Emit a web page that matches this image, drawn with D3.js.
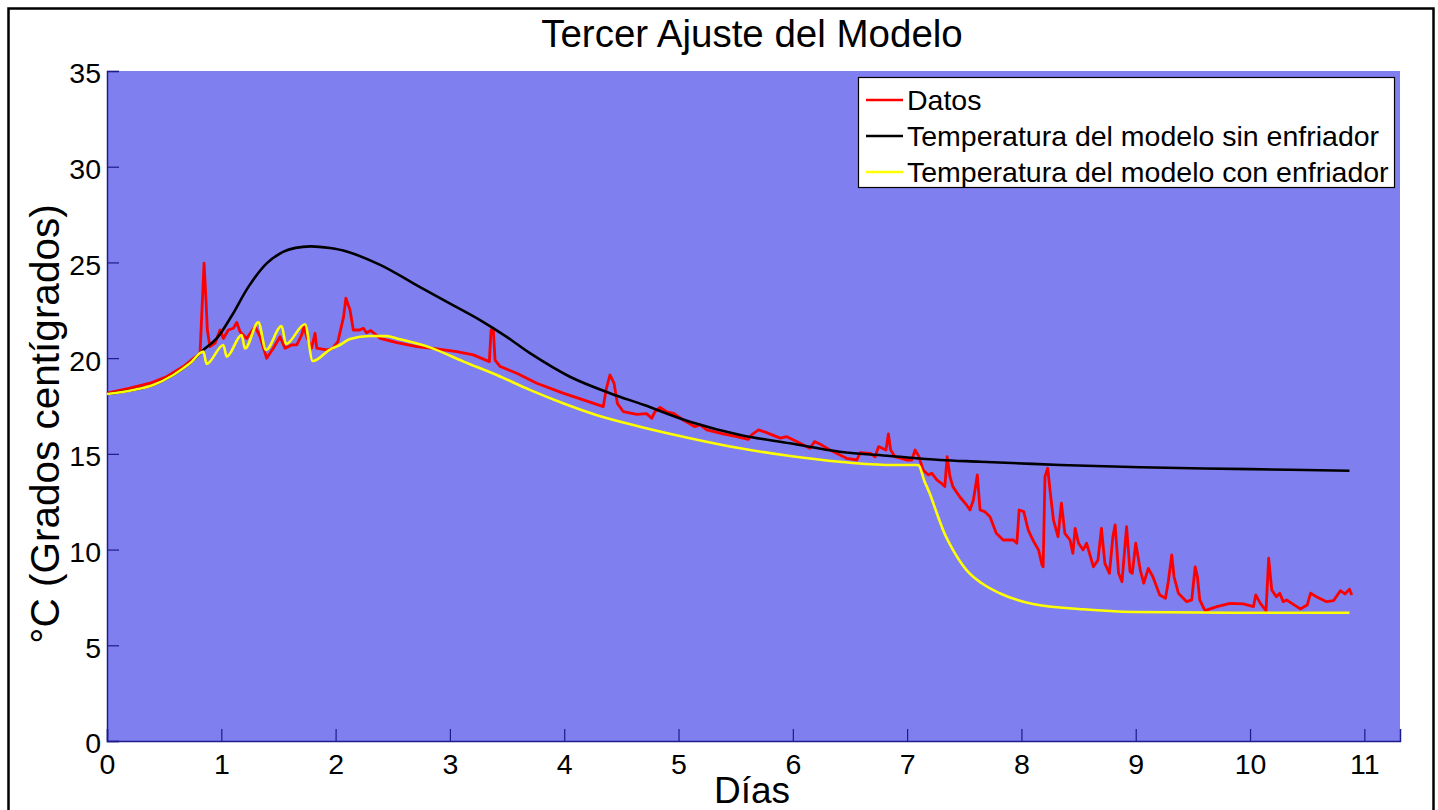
<!DOCTYPE html>
<html><head><meta charset="utf-8">
<script src="https://cdn.jsdelivr.net/npm/d3@7"></script>
<style>body{margin:0;background:#fff;} svg{display:block;} text{font-family:"Liberation Sans",Arial,sans-serif;}</style>
</head><body>
<svg id="c" width="1438" height="810"></svg>
<script>
const title = "Tercer Ajuste del Modelo";
const xLabel = "Días";
const yLabel = "°C (Grados centígrados)";
const xTicks = [0,1,2,3,4,5,6,7,8,9,10,11];
const yTicks = [0,5,10,15,20,25,30,35];
const legendLabels = ["Datos","Temperatura del modelo sin enfriador","Temperatura del modelo con enfriador"];

const datosX = [0,0.2,0.376,0.52,0.668,0.814,0.849,0.866,0.878,0.9,0.945,0.989,1.018,1.061,1.105,1.135,1.164,1.222,1.295,1.339,1.397,1.455,1.514,1.557,1.616,1.66,1.703,1.724,1.747,1.79,1.82,1.835,1.92,1.97,2.02,2.07,2.09,2.126,2.155,2.21,2.243,2.27,2.307,2.345,2.39,2.535,2.71,2.885,3.06,3.205,3.345,3.36,3.38,3.395,3.44,3.585,3.76,3.99,4.167,4.342,4.366,4.4,4.436,4.465,4.517,4.634,4.72,4.765,4.794,4.838,4.897,4.955,5.04,5.144,5.188,5.247,5.39,5.51,5.61,5.64,5.7,5.77,5.89,5.947,6.034,6.15,6.19,6.25,6.325,6.47,6.56,6.59,6.675,6.72,6.75,6.815,6.836,6.856,6.894,6.996,7.04,7.07,7.1,7.14,7.186,7.215,7.26,7.3,7.33,7.35,7.375,7.4,7.46,7.52,7.55,7.58,7.614,7.638,7.68,7.725,7.78,7.84,7.93,7.96,7.98,8.02,8.06,8.1,8.15,8.18,8.19,8.206,8.23,8.25,8.28,8.32,8.35,8.38,8.425,8.45,8.47,8.5,8.54,8.57,8.63,8.67,8.7,8.73,8.77,8.8,8.82,8.85,8.88,8.92,8.95,8.97,9.0,9.04,9.07,9.11,9.15,9.21,9.26,9.285,9.315,9.335,9.373,9.446,9.49,9.52,9.54,9.56,9.606,9.71,9.825,9.94,10.03,10.05,10.09,10.14,10.163,10.19,10.23,10.26,10.29,10.32,10.365,10.44,10.5,10.53,10.58,10.67,10.73,10.79,10.83,10.87,10.89];
const datosY = [18.17,18.43,18.69,19.03,19.56,20.26,24.96,23.04,21.47,20.6,20.78,21.47,21.03,21.47,21.56,21.86,21.38,21.03,21.65,21.12,19.99,20.52,21.12,20.52,20.69,20.69,21.21,21.65,21.12,20.52,21.3,20.52,20.43,20.5,20.86,22.17,23.13,22.52,21.47,21.47,21.56,21.33,21.44,21.26,21.03,20.81,20.6,20.48,20.34,20.17,19.82,21.47,21.47,19.9,19.56,19.21,18.69,18.17,17.82,17.47,18.34,19.12,18.69,17.64,17.2,17.06,17.1,16.86,17.2,17.43,17.2,17.12,16.77,16.42,16.51,16.25,16.04,15.9,15.76,15.99,16.25,16.11,15.82,15.9,15.64,15.29,15.64,15.47,15.2,14.77,14.68,15.06,15.03,14.85,15.38,15.2,16.04,15.2,14.85,14.68,14.68,15.2,14.9,14.16,13.9,13.99,13.64,13.46,13.29,14.85,13.81,13.29,12.76,12.33,12.07,12.59,13.9,12.07,11.98,11.72,10.85,10.5,10.5,10.33,12.07,11.98,11.02,10.5,9.98,9.2,9.1,13.81,14.25,13.11,11.55,10.67,12.42,10.85,10.5,9.8,11.11,10.33,9.98,10.33,9.1,9.46,11.11,9.28,8.76,10.67,11.29,8.76,8.32,11.2,8.85,8.76,10.33,8.93,8.24,9.02,8.58,7.63,7.46,8.32,9.72,8.58,7.72,7.28,7.37,9.1,8.58,7.37,6.81,7.02,7.19,7.16,7.02,7.63,7.19,6.81,9.55,7.89,7.54,7.72,7.28,7.37,7.19,6.9,7.1,7.72,7.54,7.28,7.33,7.85,7.68,7.93,7.63];

const sinX = [0,0.23,0.405,0.58,0.726,0.843,0.96,1.09,1.24,1.397,1.54,1.65,1.78,1.95,2.097,2.39,2.68,2.97,3.26,3.5,3.7,4.05,4.4,4.7,5.1,5.54,5.975,6.41,6.85,7.29,7.64,8.34,9.04,10.0,10.87];
const sinY = [18.13,18.34,18.6,19.12,19.73,20.43,21.03,22.2,23.75,24.95,25.55,25.76,25.84,25.75,25.57,24.87,23.91,22.95,22.0,21.1,20.26,19.03,18.17,17.55,16.68,15.99,15.55,15.11,14.89,14.68,14.59,14.42,14.3,14.2,14.12];

const conX = [0,0.23,0.405,0.58,0.726,0.843,0.872,1.018,1.047,1.178,1.207,1.324,1.391,1.528,1.566,1.732,1.8,1.95,2.04,2.126,2.3,2.45,2.535,2.83,3.12,3.41,3.7,3.99,4.28,4.663,5.1,5.54,5.975,6.41,6.85,7.08,7.1,7.15,7.2,7.26,7.32,7.4,7.52,7.65,7.81,8.1,8.54,8.98,9.85,10.87];
const conY = [18.13,18.34,18.6,19.12,19.73,20.34,19.7,20.69,20.08,21.2,20.5,21.87,20.43,21.68,20.74,21.77,19.85,20.45,20.7,21.0,21.16,21.15,21.03,20.55,19.82,19.12,18.34,17.64,17.03,16.42,15.82,15.29,14.89,14.59,14.42,14.42,14.4,13.6,12.9,11.9,10.95,10.0,8.93,8.25,7.72,7.16,6.88,6.74,6.7,6.7];

const svg = d3.select("#c");
const L=107, R=1400, T=71, B=741;
const x = d3.scaleLinear().domain([0, 11.312]).range([L, R]);
const y = d3.scaleLinear().domain([0, 35]).range([B, T]);
const axisCol = "#1c1c8a";

// frame
svg.append("rect").attr("x",8.5).attr("y",8.5).attr("width",1425).attr("height",900)
  .attr("fill","#fff").attr("stroke","#000").attr("stroke-width",2.5);
// plot bg
svg.append("rect").attr("x",L).attr("y",T).attr("width",R-L).attr("height",B-T).attr("fill","#7f7fef");

// axes
const xAxis = d3.axisBottom(x).tickValues(xTicks).tickSize(-12).tickPadding(13).tickFormat(d3.format("d"));
const yAxis = d3.axisLeft(y).tickValues(yTicks).tickSize(-12).tickPadding(6).tickFormat(d3.format("d"));
const gx = svg.append("g").attr("transform",`translate(0,${B})`).call(xAxis);
const gy = svg.append("g").attr("transform",`translate(${L},0)`).call(yAxis);
[gx,gy].forEach(g=>{
  g.select(".domain").attr("stroke",axisCol).attr("stroke-width",1.5);
  g.selectAll(".tick line").attr("stroke",axisCol).attr("stroke-width",1.2);
  g.selectAll(".tick text").attr("fill","#000").style("font-size","28.5px").style("font-family","'Liberation Sans',Arial,sans-serif");
});
gx.selectAll(".tick text").attr("dy","0.71em");
gy.selectAll(".tick text").attr("dy","0.42em");

const mk = (xs, ys) => xs.map((v,i)=>[v, ys[i]]);
const lineLin = d3.line().x(d=>x(d[0])).y(d=>y(d[1]));
const lineCR = d3.line().x(d=>x(d[0])).y(d=>y(d[1])).curve(d3.curveCatmullRom.alpha(0.5));
const lineSmooth = d3.line().x(d=>x(d[0])).y(d=>y(d[1])).curve(d3.curveMonotoneX);

svg.append("path").attr("d", lineLin(mk(datosX,datosY))).attr("fill","none").attr("stroke","#ff0000").attr("stroke-width",2.8).attr("stroke-linejoin","round");
svg.append("path").attr("d", lineCR(mk(sinX,sinY))).attr("fill","none").attr("stroke","#000").attr("stroke-width",2.6);
svg.append("path").attr("d", lineSmooth(mk(conX,conY))).attr("fill","none").attr("stroke","#ffff00").attr("stroke-width",2.6).attr("stroke-linejoin","round");

// title and labels
svg.append("text").attr("x",752).attr("y",47).attr("text-anchor","middle").style("font-size","38.5px").text(title);
svg.append("text").attr("x",752).attr("y",803).attr("text-anchor","middle").style("font-size","37px").text(xLabel);
svg.append("text").attr("transform","translate(59,424) rotate(-90)").attr("text-anchor","middle").style("font-size","40.5px").text(yLabel);

// legend
const lg = svg.append("g");
lg.append("rect").attr("x",858.5).attr("y",77.5).attr("width",536).attr("height",110).attr("fill","#fff").attr("stroke","#000").attr("stroke-width",1.2);
const colors = ["#ff0000","#000","#ffff00"];
const rowY = [100,136,172];
legendLabels.forEach((t,i)=>{
  lg.append("line").attr("x1",866).attr("x2",903).attr("y1",rowY[i]).attr("y2",rowY[i]).attr("stroke",colors[i]).attr("stroke-width",2.6);
  lg.append("text").attr("x",907).attr("y",rowY[i]+10).style("font-size","28.5px").text(t);
});
</script>
</body></html>
